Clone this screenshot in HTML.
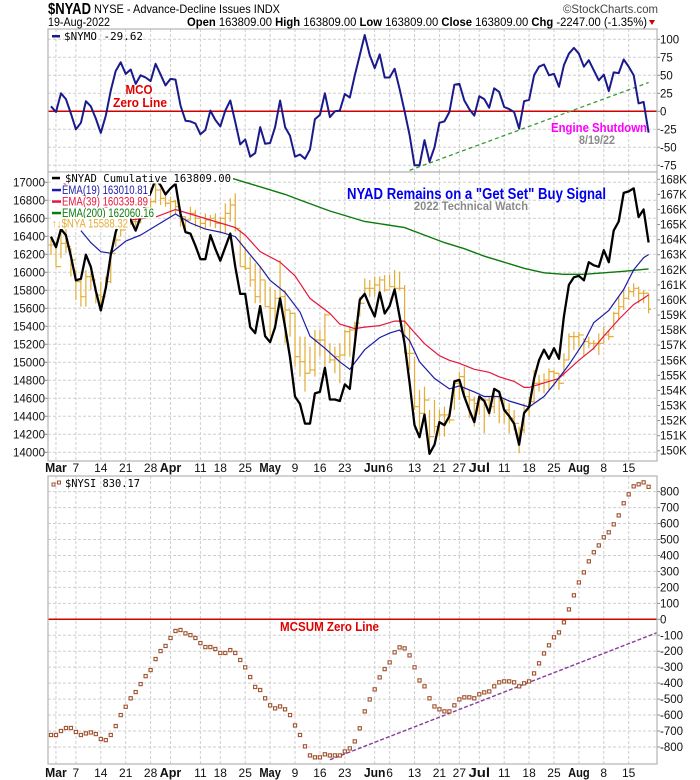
<!DOCTYPE html>
<html><head><meta charset="utf-8">
<style>
html,body{margin:0;padding:0;background:#fff;}
svg{display:block;font-family:"Liberation Sans",Arial,sans-serif;}
</style></head>
<body>
<svg id="chart" width="700" height="780" viewBox="0 0 700 780" xmlns="http://www.w3.org/2000/svg">
<defs>
<clipPath id="clipTop"><rect x="48" y="29" width="609" height="143"/></clipPath>
<clipPath id="clipMid"><rect x="48" y="172" width="609" height="289"/></clipPath>
<clipPath id="clipBot"><rect x="48" y="476" width="609" height="288"/></clipPath>
</defs>
<g id="gTop"></g>
<g id="gMid"></g>
<g id="gBot"></g>
<g>
<text x="48" y="14" font-size="16" font-weight="bold" textLength="43" lengthAdjust="spacingAndGlyphs">$NYAD</text>
<text x="94" y="13" font-size="12" textLength="186" lengthAdjust="spacingAndGlyphs">NYSE - Advance-Decline Issues INDX</text>
<text x="563" y="13" font-size="12" fill="#444" textLength="95" lengthAdjust="spacingAndGlyphs">©StockCharts.com</text>
<text x="48" y="26" font-size="11.5" textLength="62" lengthAdjust="spacingAndGlyphs">19-Aug-2022</text>
<text x="187" y="26" font-size="11.5" textLength="460" lengthAdjust="spacingAndGlyphs"><tspan font-weight="bold">Open</tspan> 163809.00 <tspan font-weight="bold">High</tspan> 163809.00 <tspan font-weight="bold">Low</tspan> 163809.00 <tspan font-weight="bold">Close</tspan> 163809.00 <tspan font-weight="bold">Chg</tspan> -2247.00 (-1.35%)</text>
<path d="M649,20 L655,20 L652,25 Z" fill="#c00"/>
</g>
</svg>
<script>
// ---------- DATA ----------
const nymo = [7,-1,25,17,-3,-25,-16,14,7,-10,-30,-6,29,56,68,52,58,38,50,47,42,66,51,36,45,44,8,-13,-14,-17,-32,-26,1,-12,-21,1,15,-15,-46,-39,-63,-58,-22,-45,-44,-22,15,-22,-34,-63,-60,-66,-53,-11,-5,25,-8,0,1,24,19,50,78,106,78,60,79,47,47,59,31,0,-33,-75,-75,-40,-70,-50,-16,-14,-1,37,38,15,3,-6,21,17,5,32,27,6,3,-1,-24,14,16,50,62,65,50,52,34,64,80,88,80,62,71,57,43,51,28,54,53,72,62,50,11,13,-29.62];
const nymoTrend = [[72,-82],[120,40]];
const nyadK = [164.2,163.5,164.7,164.3,162.9,161.3,161.4,163.0,162.2,160.6,159.3,160.8,163.0,164.5,165.5,166.0,165.3,164.6,165.5,166.4,167.1,168.0,167.6,167.0,167.4,167.7,165.7,164.5,164.4,163.6,162.7,162.7,164.3,163.4,162.6,163.5,164.4,162.2,160.4,160.4,158.2,157.8,159.6,157.6,157.2,158.2,160.1,158.2,156.2,153.6,153.1,151.8,151.8,153.8,153.9,155.5,153.4,153.4,153.3,154.4,154.1,157.1,160.0,160.4,159.6,158.9,160.5,159.1,159.6,160.7,158.9,157.1,154.5,151.7,150.9,152.4,149.8,150.4,151.9,151.7,152.3,154.6,154.7,153.6,152.7,151.9,153.6,153.3,152.5,154.1,153.9,152.7,152.3,151.8,150.4,152.5,152.9,154.8,156.0,156.7,156.1,156.8,156.1,158.9,161.0,161.5,161.6,161.3,162.5,162.3,162.2,163.3,162.5,164.6,165.2,167.1,167.2,167.4,165.5,166.0,163.809];
const ema19 = [[6,164.6],[8,163.8],[10,163.2],[12,163.1],[15,163.9],[18,164.3],[21,164.9],[23,165.3],[25,165.7],[28,165.1],[31,164.7],[34,164.5],[37,164.2],[39,163.4],[42,162.2],[44,161.3],[47,160.5],[50,159.2],[52,157.6],[55,156.8],[58,155.9],[60,155.4],[63,156.7],[66,157.5],[68,157.8],[70,158.0],[72,157.3],[74,155.9],[77,154.8],[80,154.1],[82,154.3],[85,153.9],[87,153.6],[90,153.6],[92,153.3],[95,153.0],[96,152.9],[99,153.6],[101,154.4],[104,155.7],[107,157.2],[109,158.5],[112,159.3],[115,160.7],[117,162.0],[119,162.8],[120,163.01]];
const ema39 = [[0,168.3],[5,167.2],[10,166.3],[14,165.7],[16,165.3],[21,165.5],[25,166.0],[28,165.7],[32,165.3],[35,165.0],[37,164.8],[39,164.3],[42,163.2],[46,162.5],[49,161.6],[52,160.1],[56,159.1],[58,158.4],[61,158.1],[63,158.2],[66,158.3],[69,158.6],[71,158.6],[72,158.2],[75,157.1],[78,156.3],[80,156.0],[82,155.8],[85,155.4],[88,155.2],[90,154.9],[93,154.6],[95,154.2],[96,154.2],[99,154.5],[102,154.8],[103,155.1],[106,156.0],[109,156.8],[111,157.6],[114,158.7],[117,159.7],[119,160.1],[120,160.34]];
const ema200 = [[0,170.0],[20,168.8],[26,168.5],[36,168.1],[39,167.8],[43,167.4],[47,167.0],[51,166.5],[56,165.9],[59,165.6],[63,165.2],[67,165.0],[71,164.8],[75,164.3],[79,163.8],[83,163.4],[87,162.9],[91,162.5],[95,162.1],[99,161.8],[103,161.7],[107,161.7],[111,161.8],[115,161.9],[120,162.06]];
const nyaHigh = [16378,16341,16544,16489,16267,16026,15952,16026,15989,15841,15896,15952,16248,16452,16507,16618,16600,16618,16655,16767,16822,16989,16933,16878,16841,16804,16693,16618,16730,16693,16618,16655,16637,16655,16618,16767,16822,16878,16470,16285,16174,16100,16063,15915,15841,15804,16137,15804,15581,15544,15285,15285,15174,15359,15359,15544,15211,15174,15211,15359,15396,15452,15729,15933,15915,15952,15952,15970,15970,16026,16007,15859,15396,15063,14693,14730,14470,14581,14470,14507,14470,14804,14896,14952,14693,14618,14618,14581,14618,14693,14618,14581,14544,14470,14285,14544,14618,14915,14859,14878,14933,14915,14878,15100,15322,15341,15341,15267,15285,15248,15322,15396,15359,15563,15729,15804,15841,15878,15841,15804,15767];
const nyaLow = [16193,16063,16156,16211,15952,15692,15618,15618,15804,15656,15618,15841,15878,16285,16396,16489,16526,16507,16544,16600,16693,16767,16748,16730,16618,16655,16507,16433,16581,16507,16470,16489,16507,16489,16433,16433,16563,16452,16063,16026,15841,15656,15656,15618,15285,15359,15600,15211,15285,14952,14841,14674,14878,14841,15063,14952,14989,14878,14767,15063,15063,15211,15507,15767,15729,15729,15767,15785,15841,15822,15804,15100,14915,14470,14248,14433,14044,14211,14174,14174,14322,14470,14581,14618,14378,14285,14415,14211,14396,14433,14322,14322,14211,14248,13989,14211,14396,14544,14674,14655,14693,14730,14693,14841,15026,15137,15174,15063,15156,15137,15081,15211,15248,15359,15470,15581,15692,15729,15656,15656,15544];
const nyaClose = [16304,16063,16322,16285,16137,15896,15729,15952,15915,15748,15729,15896,16211,16359,16470,16581,16563,16563,16600,16730,16785,16915,16822,16767,16785,16730,16618,16581,16655,16600,16544,16581,16600,16544,16600,16655,16748,16489,16063,16044,15915,15729,15915,15618,15600,15711,15729,15581,15544,15063,15007,14878,14915,15248,15248,15526,15026,15063,15081,15341,15359,15433,15656,15822,15822,15859,15915,15804,15841,15822,15822,15100,15100,14507,14433,14581,14174,14285,14415,14415,14359,14767,14841,14618,14581,14544,14581,14581,14507,14618,14581,14470,14378,14322,14248,14470,14563,14767,14767,14804,14896,14878,14767,15026,15285,15285,15304,15230,15211,15211,15211,15304,15285,15544,15618,15711,15785,15822,15767,15767,15588.32];
const nysi = [-725,-725,-700,-681,-681,-706,-725,-715,-709,-719,-750,-757,-725,-669,-600,-548,-495,-456,-406,-356,-318,-249,-199,-167,-117,-73,-67,-88,-99,-117,-149,-174,-174,-186,-211,-211,-193,-211,-255,-301,-362,-424,-443,-495,-539,-558,-546,-564,-600,-665,-725,-796,-853,-865,-865,-846,-853,-853,-853,-828,-809,-765,-683,-577,-502,-439,-364,-312,-270,-207,-176,-182,-226,-301,-383,-420,-495,-546,-564,-577,-577,-539,-502,-489,-489,-495,-470,-458,-452,-420,-395,-389,-389,-395,-420,-401,-389,-339,-276,-214,-163,-113,-82,-19,62,150,231,294,363,420,463,514,545,595,651,727,783,833,846,858,830.17];
const nysiTrend = [[56,-880],[122,-80]];
const topTicks = [100,75,50,25,0,-25,-50,-75];
const midLeftTicks = [17000,16800,16600,16400,16200,16000,15800,15600,15400,15200,15000,14800,14600,14400,14200,14000];
const midRightTicks = [168,167,166,165,164,163,162,161,160,159,158,157,156,155,154,153,152,151,150];
const botTicks = [800,700,600,500,400,300,200,100,0,-100,-200,-300,-400,-500,-600,-700,-800];
const holidays = ["2022-04-15","2022-05-30","2022-06-20","2022-07-04"];
const monthNames = ["Jan","Feb","Mar","Apr","May","Jun","Jul","Aug","Sep"];

// ---------- AXES ----------
const PL=48, PR=657;
const xI = i => 51 + i*4.98;
const yT = v => 111.3 - 0.72*v;
const yR = k => 179.3 + (168-k)*15.08;
const yL = v => 182.3 + (17000-v)*0.09;
const yB = v => 619.3 - 0.1596*v;
const NS="http://www.w3.org/2000/svg";
function mk(tag, attrs, parent){const e=document.createElementNS(NS,tag);for(const k in attrs)e.setAttribute(k,attrs[k]);parent.appendChild(e);return e;}

const dates=[];
{let d=new Date(Date.UTC(2022,1,28));const end=new Date(Date.UTC(2022,7,19));
 while(d<=end){const wd=d.getUTCDay();const s=d.toISOString().slice(0,10);
  if(wd!==0&&wd!==6&&!holidays.includes(s))dates.push(new Date(d));
  d=new Date(d.getTime()+86400000);}}
const xlabels=[];
{const monthIdx=[];
 for(let i=0;i<dates.length;i++){ if(i>0&&dates[i].getUTCMonth()!==dates[i-1].getUTCMonth()) monthIdx.push(i); }
 for(const m of monthIdx) xlabels.push({i:m,t:monthNames[dates[m].getUTCMonth()],b:true});
 for(let i=0;i<dates.length;i++){
  const newWeek = i>0 && (dates[i].getUTCDay() < dates[i-1].getUTCDay() || (dates[i]-dates[i-1])>3*86400000);
  if(!newWeek) continue;
  if(monthIdx.some(m=>Math.abs(m-i)<=1)) continue;
  xlabels.push({i:i,t:String(dates[i].getUTCDate()),b:false});
 }}

function panel(g, top, bottom, name){
  const r=mk('rect',{x:PL,y:top,width:PR-PL,height:bottom-top,fill:'#fff',stroke:'none'},g);
  
  
  const grid=mk('g',{},g);
  
  
  for(const l of xlabels){
    const ln=mk('line',{x1:xI(l.i),x2:xI(l.i),y1:top,y2:bottom,stroke:'#cfcfcf','stroke-dasharray':'3,2','stroke-width':1},grid);
    
    
  }
  return grid;
}
function border(g,top,bottom,name){
  const b=mk('rect',{x:PL,y:top,width:PR-PL,height:bottom-top,fill:'none',stroke:'#b4b4b4','stroke-width':1.2},g);
  
  
}
function hgrid(grid,y){
  const ln=mk('line',{x1:PL,x2:PR,y1:y,y2:y,stroke:'#cfcfcf','stroke-dasharray':'3,2','stroke-width':1},grid);
  
  
}
function rightLabel(g,y,t){
  const tk=mk('line',{x1:PR,x2:PR+3,y1:y,y2:y,stroke:'#888'},g);
  
  
  const tx=mk('text',{x:PR+3,y:y+4,'font-size':11.5,fill:'#111'},g);
  tx.textContent=t;
  
  
}
function pathFrom(pts){return pts.map((p,k)=>(k?'L':'M')+p[0].toFixed(1)+','+p[1].toFixed(1)).join(' ');}
function xAxisLabels(g,y){
  for(const l of xlabels){
    const t=mk('text',{x:xI(l.i),y:y,'text-anchor':'middle','font-size':l.b?13:12,'font-weight':l.b?'bold':'normal',fill:'#111'},g);
    if(l.b){t.setAttribute('textLength',l.t.length*7.2);t.setAttribute('lengthAdjust','spacingAndGlyphs');}
    t.textContent=l.t;
    
    
  }
}

// ---------- TOP PANEL (NYMO) ----------
{
 const TOP=29;
 const g=document.getElementById('gTop');
 
 
 const grid=panel(g,TOP,172,'nymo-panel');
 for(const v of topTicks){ hgrid(grid,yT(v)); rightLabel(g,yT(v),String(v)); }
 const c=mk('g',{'clip-path':'url(#clipTop)'},g);
 const z=mk('line',{x1:PL,x2:PR,y1:yT(0),y2:yT(0),stroke:'#d00000','stroke-width':1.5},c);
 
 
 const tr=mk('line',{x1:xI(nymoTrend[0][0]),y1:yT(nymoTrend[0][1]),x2:xI(nymoTrend[1][0]),y2:yT(nymoTrend[1][1]),stroke:'#3a9a3a','stroke-width':1.3,'stroke-dasharray':'4,3'},c);
 
 
 const p=mk('path',{d:pathFrom(nymo.map((v,i)=>[xI(i),yT(v)])),fill:'none',stroke:'#1a1a8c','stroke-width':2,'stroke-linejoin':'round'},c);
 
 
 border(g,TOP,172,'nymo-panel');
 const lg=mk('g',{},g);
 
 
 mk('rect',{x:52,y:35,width:8,height:2.5,fill:'#1a1a8c'},lg);
 const lt=mk('text',{x:64,y:40,'font-size':11,'font-family':'DejaVu Sans Mono, monospace',textLength:79,lengthAdjust:'spacingAndGlyphs'},lg);
 lt.textContent='$NYMO -29.62';
 const a1=mk('text',{x:139,y:94,'text-anchor':'middle','font-size':13,'font-weight':'bold',fill:'#e00000',textLength:27,lengthAdjust:'spacingAndGlyphs'},g);
 a1.textContent='MCO';
 
 
 const a2=mk('text',{x:140,y:107,'text-anchor':'middle','font-size':13,'font-weight':'bold',fill:'#e00000',textLength:54,lengthAdjust:'spacingAndGlyphs'},g);
 a2.textContent='Zero Line';
 
 
 const a3=mk('text',{x:551,y:132,'font-size':13,'font-weight':'bold',fill:'#ff00ff',textLength:96,lengthAdjust:'spacingAndGlyphs'},g);
 a3.textContent='Engine Shutdown';
 
 
 const a4=mk('text',{x:579,y:144,'font-size':12,'font-weight':'bold',fill:'#8a8a8a',textLength:36,lengthAdjust:'spacingAndGlyphs'},g);
 a4.textContent='8/19/22';
 
 
}

// ---------- MIDDLE PANEL ----------
{
 const g=document.getElementById('gMid');
 
 
 const grid=panel(g,172,461,'nyad-panel');
 for(const v of midLeftTicks){
   hgrid(grid,yL(v));
   const t=mk('text',{x:45,y:yL(v)+4,'text-anchor':'end','font-size':11.5,fill:'#111'},g);
   t.textContent=String(v);
   
   
   const tk=mk('line',{x1:PL-3,x2:PL,y1:yL(v),y2:yL(v),stroke:'#888'},g);
   
   
 }
 for(const k of midRightTicks){ rightLabel(g,yR(k),k+'K'); }
 const c=mk('g',{'clip-path':'url(#clipMid)'},g);
 const bars=mk('g',{stroke:'#e3ad37','stroke-width':1.2},c);
 
 
 for(let i=0;i<nyaClose.length;i++){
   const x=xI(i);
   const po=i?nyaClose[i-1]:nyaClose[i];
   const b=mk('path',{d:`M${x},${yL(nyaHigh[i])} L${x},${yL(nyaLow[i])} M${x},${yL(nyaClose[i])} L${x+2.5},${yL(nyaClose[i])} M${x-2.5},${yL(po)} L${x},${yL(po)}`},bars);
   
   
 }
 const e200=mk('path',{d:pathFrom(ema200.map(p=>[xI(p[0]),yR(p[1])])),fill:'none',stroke:'#0b7a0b','stroke-width':1.4},c);
 
 
 const e39=mk('path',{d:pathFrom(ema39.map(p=>[xI(p[0]),yR(p[1])])),fill:'none',stroke:'#e5173f','stroke-width':1.2},c);
 
 
 const e19=mk('path',{d:pathFrom(ema19.map(p=>[xI(p[0]),yR(p[1])])),fill:'none',stroke:'#1c1ca8','stroke-width':1.2},c);
 
 
 const nl=mk('path',{d:pathFrom(nyadK.map((v,i)=>[xI(i),yR(v)])),fill:'none',stroke:'#000','stroke-width':2.3,'stroke-linejoin':'round'},c);
 
 
 border(g,172,461,'nyad-panel');
 const lg=mk('g',{},g);
 
 
 const rows=[
  {t:'$NYAD Cumulative 163809.00',c:'#000',y:178,w:166,mono:true},
  {t:'EMA(19) 163010.81',c:'#1c1ca8',y:190,w:86},
  {t:'EMA(39) 160339.89',c:'#e5173f',y:201.5,w:86},
  {t:'EMA(200) 162060.16',c:'#0b7a0b',y:213,w:92},
  {t:'↑↓$NYA 15588.32',c:'#e3ad37',y:223.5,w:76,bar:true}
 ];
 for(const r of rows){
   const tx0 = r.mono?65:(r.bar?52:62);
   const bg=mk('rect',{x:51,y:r.y-5.5,width:tx0+r.w-49,height:11,fill:'#fff'},lg);
   
   
   if(!r.bar){ mk('rect',{x:52,y:r.y-1.2,width:r.mono?8:9,height:2.5,fill:r.c},lg); }
   const t=mk('text',{x:tx0,y:r.y+4,'font-size':r.mono?11:11.5,fill:r.c,'font-family':r.mono?'DejaVu Sans Mono, monospace':'Liberation Sans, sans-serif',textLength:r.w,lengthAdjust:'spacingAndGlyphs'},lg);
   t.textContent=r.t;
   
   
 }
 const ti=mk('text',{x:347,y:199,'font-size':16,'font-weight':'bold',fill:'#0000ee',textLength:259,lengthAdjust:'spacingAndGlyphs'},g);
 ti.textContent='NYAD Remains on a "Get Set" Buy Signal';
 
 
 const st=mk('text',{x:414,y:210,'font-size':12,'font-weight':'bold',fill:'#8a8a8a',textLength:114,lengthAdjust:'spacingAndGlyphs'},g);
 st.textContent='2022 Technical Watch';
 
 
 const xa=mk('g',{},g);
 
 
 xAxisLabels(xa,472);
}

// ---------- BOTTOM PANEL (NYSI) ----------
{
 const g=document.getElementById('gBot');
 
 
 const grid=panel(g,476,764,'nysi-panel');
 for(const v of botTicks){ hgrid(grid,yB(v)); rightLabel(g,yB(v),String(v)); }
 const c=mk('g',{'clip-path':'url(#clipBot)'},g);
 const z=mk('line',{x1:PL,x2:PR,y1:yB(0),y2:yB(0),stroke:'#d00000','stroke-width':1.5},c);
 
 
 const tr=mk('line',{x1:xI(nysiTrend[0][0]),y1:yB(nysiTrend[0][1]),x2:xI(nysiTrend[1][0]),y2:yB(nysiTrend[1][1]),stroke:'#8a3a9a','stroke-width':1.4,'stroke-dasharray':'4,2'},c);
 
 
 const dots=mk('g',{},c);
 
 
 for(let i=0;i<nysi.length;i++){
   const d=mk('rect',{x:xI(i)-1.6,y:yB(nysi[i])-1.6,width:3.2,height:3.2,fill:'#fff',stroke:'#a0522d','stroke-width':1.1},dots);
   
   
 }
 border(g,476,764,'nysi-panel');
 const lg=mk('g',{},g);
 
 
 mk('rect',{x:52,y:483,width:3,height:3,fill:'#fff',stroke:'#a0522d','stroke-width':1},lg);
 mk('rect',{x:57.5,y:481,width:3,height:3,fill:'#fff',stroke:'#a0522d','stroke-width':1},lg);
 const lt=mk('text',{x:65,y:487,'font-size':11,'font-family':'DejaVu Sans Mono, monospace',textLength:75,lengthAdjust:'spacingAndGlyphs'},lg);
 lt.textContent='$NYSI 830.17';
 const a=mk('text',{x:280,y:631,'font-size':13,'font-weight':'bold',fill:'#e00000',textLength:99,lengthAdjust:'spacingAndGlyphs'},g);
 a.textContent='MCSUM Zero Line';
 
 
 const xa=mk('g',{},g);
 
 
 xAxisLabels(xa,777);
}
</script>
</body></html>
